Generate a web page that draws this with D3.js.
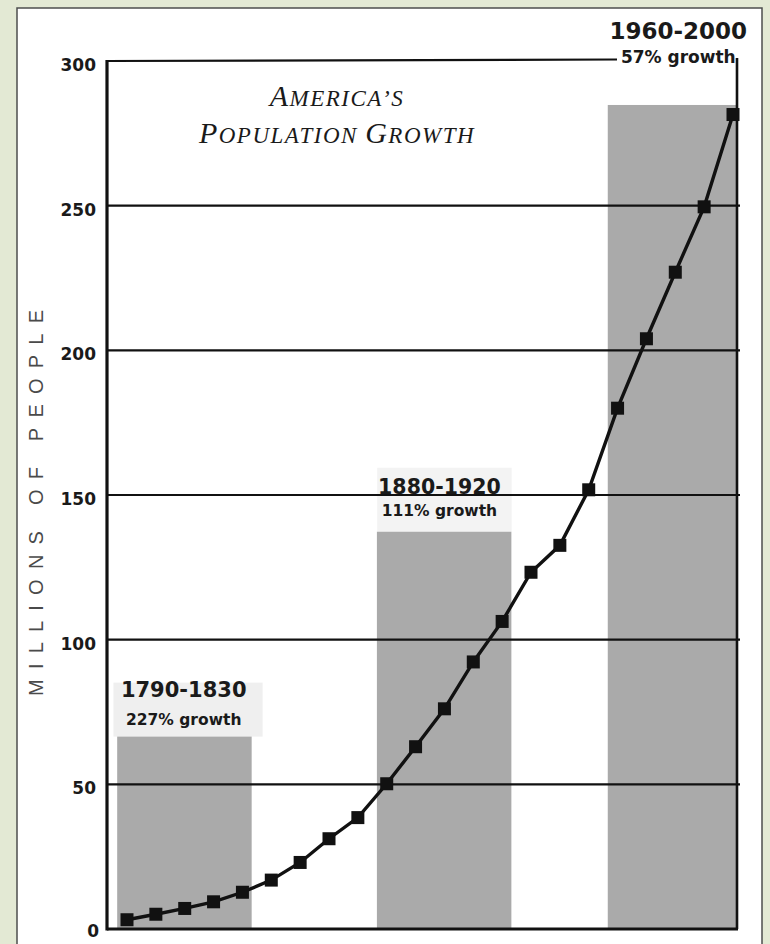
<!DOCTYPE html>
<html>
<head>
<meta charset="utf-8">
<script src="https://cdn.jsdelivr.net/npm/d3@7"></script>
<style>
  html, body { margin: 0; padding: 0; background: #e3e9d4; }
  svg { display: block; }
</style>
</head>
<body>
<svg id="chart" width="770" height="944"></svg>
<script>
// ---- data ----
const years = [1790, 1800, 1810, 1820, 1830, 1840, 1850, 1860, 1870, 1880, 1890,
               1900, 1910, 1920, 1930, 1940, 1950, 1960, 1970, 1980, 1990, 2000];
const population = [3.2, 5.1, 7.1, 9.4, 12.7, 16.9, 23.0, 31.2, 38.5, 50.2, 63.0,
                    76.1, 92.3, 106.3, 123.3, 132.6, 151.8, 180.0, 204.0, 227.0, 249.6, 281.5];
const periodLabels = ["1790-1830", "1880-1920", "1960-2000"];
const periodStart = [1790, 1880, 1960];
const periodEnd = [1830, 1920, 2000];
const periodBarValue = [66.5, 137.3, 284.8];
const growthLabels = ["227% growth", "111% growth", "57% growth"];
const yTicks = [0, 50, 100, 150, 200, 250, 300];
const gridValues = [50, 100, 150, 200, 250];
const yAxisTitle = "MILLIONS OF PEOPLE";

(function () {
// ---- layout ----
const svg = d3.select("#chart");
const pLeft = 107, pRight = 737, pTop = 61, pBottom = 929;

svg.append("rect").attr("x", 17).attr("y", 8).attr("width", 745).attr("height", 960)
  .attr("fill", "#ffffff").attr("stroke", "#4d4d4d").attr("stroke-width", 1.5);

const x = d3.scaleLinear().domain([1790, 2000]).range([127, 733]);
const y = d3.scaleLinear().domain([0, 300]).range([pBottom, pTop]);

const bars = periodLabels.map((p, i) => ({
  label: p, start: periodStart[i], end: periodEnd[i], v: periodBarValue[i], growth: growthLabels[i], i
}));

// faint label backgrounds
const labelBg = svg.append("g");
labelBg.append("rect")
  .attr("x", x(periodStart[0] - 4.7)).attr("width", x(periodEnd[0] + 7) - x(periodStart[0] - 4.7))
  .attr("y", y(periodBarValue[0]) - 54).attr("height", 54).attr("fill", "#efefef");
labelBg.append("rect")
  .attr("x", x(periodStart[1] - 3.3)).attr("width", x(periodEnd[1] + 3.3) - x(periodStart[1] - 3.3))
  .attr("y", y(periodBarValue[1]) - 64).attr("height", 64).attr("fill", "#f3f3f3");

// bars
svg.append("g").selectAll("rect").data(bars).join("rect")
  .attr("x", d => x(d.start - 3.4))
  .attr("width", d => Math.min(x(d.end + 3.2), pRight) - x(d.start - 3.4))
  .attr("y", d => y(d.v))
  .attr("height", d => y(0) - y(d.v))
  .attr("fill", "#aaaaaa");

// gridlines
svg.append("g").selectAll("line").data(gridValues).join("line")
  .attr("x1", pLeft).attr("x2", pRight + 3)
  .attr("y1", d => y(d)).attr("y2", d => y(d))
  .attr("stroke", "#111").attr("stroke-width", 2.2);

// top line (300), stopping before the last label
svg.append("line").attr("x1", pLeft).attr("x2", 617)
  .attr("y1", y(300)).attr("y2", y(300) - 1.5)
  .attr("stroke", "#111").attr("stroke-width", 2.2);

// right vertical line
svg.append("line").attr("x1", pRight).attr("x2", pRight)
  .attr("y1", y(300) - 3).attr("y2", y(0))
  .attr("stroke", "#111").attr("stroke-width", 2.6);

// y axis
const yAxis = d3.axisLeft(y).tickValues(yTicks).tickSize(0).tickPadding(11);
const gy = svg.append("g").attr("transform", `translate(${pLeft},0)`).call(yAxis);
gy.select(".domain").remove();
gy.selectAll("text")
  .attr("font-family", "DejaVu Sans, sans-serif")
  .attr("font-weight", "bold")
  .attr("font-size", 17)
  .attr("fill", "#1a1a1a")
  .attr("dy", "0.55em");
gy.selectAll(".tick").filter(d => d === 0).select("text").attr("dy", "0.42em").attr("x", -8);

// left axis line and baseline
svg.append("line").attr("x1", pLeft).attr("x2", pLeft).attr("y1", y(300) - 1).attr("y2", y(0) + 1.5)
  .attr("stroke", "#111").attr("stroke-width", 3.2);
svg.append("line").attr("x1", pLeft).attr("x2", pRight + 1).attr("y1", y(0)).attr("y2", y(0))
  .attr("stroke", "#111").attr("stroke-width", 3);

// axis title
svg.append("text")
  .attr("transform", `translate(43,${(310 + 696) / 2}) rotate(-90)`)
  .attr("text-anchor", "middle")
  .attr("font-family", "Liberation Sans, Arial, sans-serif")
  .attr("font-size", 20)
  .attr("fill", "#4a4a4a")
  .attr("textLength", 386)
  .attr("lengthAdjust", "spacing")
  .text(yAxisTitle);

// line + markers
const pts = years.map((yr, i) => ({ yr, v: population[i] }));
svg.append("path").datum(pts)
  .attr("d", d3.line().x(d => x(d.yr)).y(d => y(d.v)))
  .attr("fill", "none").attr("stroke", "#111").attr("stroke-width", 3.4);
const sq = 13;
svg.append("g").selectAll("rect").data(pts).join("rect")
  .attr("x", d => x(d.yr) - sq / 2).attr("y", d => y(d.v) - sq / 2)
  .attr("width", sq).attr("height", sq).attr("fill", "#111");

// period labels
const labFont = "DejaVu Sans, sans-serif";
const labGeom = [
  { cx: (x(periodStart[0]) + x(periodEnd[0])) / 2 - 1, b1: y(periodBarValue[0]) - 40, b2: y(periodBarValue[0]) - 12, f1: 21, f2: 15.5 },
  { cx: (x(periodStart[1]) + x(periodEnd[1])) / 2 - 5, b1: y(150) - 1, b2: y(150) + 21, f1: 20.5, f2: 15.5 },
  { cx: (x(periodStart[2]) + x(periodEnd[2])) / 2 + 3, b1: y(300) - 22, b2: y(300) + 2, f1: 23, f2: 17 }
];
bars.forEach((d, i) => {
  const g = labGeom[i];
  svg.append("text").attr("x", g.cx).attr("y", g.b1).attr("text-anchor", "middle")
    .attr("font-family", labFont).attr("font-weight", "bold").attr("font-size", g.f1)
    .attr("fill", "#1a1a1a").text(d.label);
  svg.append("text").attr("x", g.cx).attr("y", g.b2).attr("text-anchor", "middle")
    .attr("font-family", labFont).attr("font-weight", "bold").attr("font-size", g.f2)
    .attr("fill", "#1a1a1a").text(d.growth);
});

// title (small caps, italic serif)
const titleFont = "Liberation Serif, DejaVu Serif, serif";
function smallCaps(sel, parts, big, small) {
  parts.forEach(p => {
    sel.append("tspan").attr("font-size", p.big ? big : small).text(p.t);
  });
}
const t1 = svg.append("text").attr("x", 337).attr("y", 106).attr("text-anchor", "middle")
  .attr("font-family", titleFont).attr("font-style", "italic").attr("fill", "#1a1a1a")
  .attr("letter-spacing", 1.5);
smallCaps(t1, [{ t: "A", big: true }, { t: "MERICA\u2019S", big: false }], 30, 23);
const t2 = svg.append("text").attr("x", 337).attr("y", 143).attr("text-anchor", "middle")
  .attr("font-family", titleFont).attr("font-style", "italic").attr("fill", "#1a1a1a")
  .attr("letter-spacing", 1.5);
smallCaps(t2, [{ t: "P", big: true }, { t: "OPULATION ", big: false }, { t: "G", big: true }, { t: "ROWTH", big: false }], 30, 23);
})();
</script>
</body>
</html>
